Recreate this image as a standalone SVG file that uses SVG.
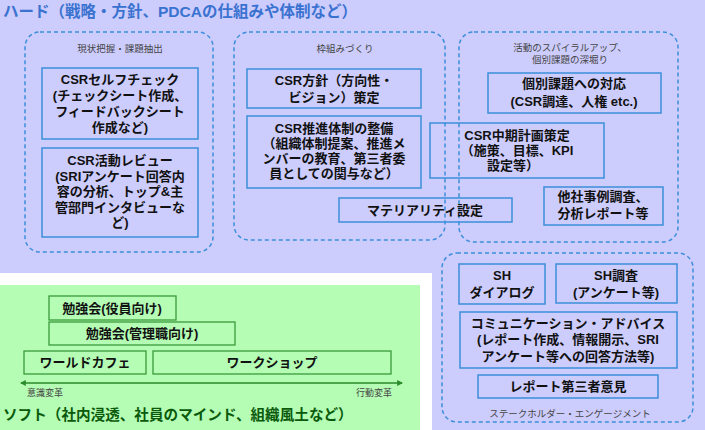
<svg xmlns="http://www.w3.org/2000/svg" width="705" height="430" viewBox="0 0 705 430">
<defs>
<style>
.bx{fill:none;stroke:#3d8fdb;stroke-width:1.5}
.gb{fill:none;stroke:#3a9a3a;stroke-width:1.3}
.dash{fill:none;stroke:#3d8fdb;stroke-width:1.5;stroke-dasharray:4 3}
.t{font-family:"Liberation Sans","Noto Sans CJK JP",sans-serif;font-weight:bold;font-size:13px;fill:#111;text-anchor:middle;dominant-baseline:central}
.s{font-family:"Liberation Sans","Noto Sans CJK JP",sans-serif;font-size:9.5px;fill:#444;text-anchor:middle;dominant-baseline:central}
.h{font-family:"Liberation Sans","Noto Sans CJK JP",sans-serif;font-weight:bold;font-size:15px;dominant-baseline:central}
</style>
<marker id="ah" viewBox="0 0 10 10" refX="8" refY="5" markerWidth="6" markerHeight="6" orient="auto-start-reverse" markerUnits="userSpaceOnUse">
<path d="M0,0 L10,5 L0,10 z" fill="#2a8a2a"/>
</marker>
</defs>
<rect x="0" y="0" width="705" height="430" fill="#ccccfd"/>
<rect x="0" y="273" width="432" height="157" fill="#ffffff"/>
<rect x="0" y="285" width="420" height="145" fill="#b5fdb5"/>
<text class="h" x="3" y="11" fill="#3a72d0" style="font-size:15.5px">ハード（戦略・方針、PDCAの仕組みや体制など）</text>
<text class="h" x="3" y="415" fill="#0b5a0b" style="font-size:14.6px">ソフト（社内浸透、社員のマインド、組織風土など）</text>

<g id="group-genjo">
<rect class="dash" x="25" y="32" width="188" height="220" rx="15"/>
<text class="s" x="120" y="48">現状把握・課題抽出</text>
</g>
<g id="group-wakugumi">
<rect class="dash" x="234" y="32" width="211" height="208" rx="15"/>
<text class="s" x="345" y="48">枠組みづくり</text>
</g>
<g id="group-spiral">
<rect class="dash" x="459" y="32" width="219" height="210" rx="15"/>
<text class="s" x="570"><tspan x="570" y="47">活動のスパイラルアップ、</tspan><tspan x="570" y="59">個別課題の深堀り</tspan></text>
</g>
<g id="group-stakeholder">
<rect class="dash" x="442" y="253" width="251" height="169" rx="15"/>
<text class="s" x="570" y="413">ステークホルダー・エンゲージメント</text>
</g>

<g id="self-check">
<rect class="bx" x="42" y="68" width="156" height="71"/>
<text class="t"><tspan x="120" y="79">CSRセルフチェック</tspan><tspan x="120" y="95">(チェックシート作成、</tspan><tspan x="120" y="111">フィードバックシート</tspan><tspan x="120" y="127">作成など)</tspan></text>
</g>
<g id="review">
<rect class="bx" x="42" y="148" width="156" height="89"/>
<text class="t"><tspan x="120" y="160">CSR活動レビュー</tspan><tspan x="120" y="175.5">(SRIアンケート回答内</tspan><tspan x="120" y="191">容の分析、トップ&amp;主</tspan><tspan x="120" y="206.5">管部門インタビューな</tspan><tspan x="120" y="222">ど)</tspan></text>
</g>
<g id="policy">
<rect class="bx" x="247" y="69" width="174" height="39"/>
<text class="t"><tspan x="334" y="80">CSR方針（方向性・</tspan><tspan x="334" y="97">ビジョン）策定</tspan></text>
</g>
<g id="structure">
<rect class="bx" x="247" y="116" width="174" height="72"/>
<text class="t"><tspan x="334" y="128">CSR推進体制の整備</tspan><tspan x="334" y="143">（組織体制提案、推進メ</tspan><tspan x="334" y="158">ンバーの教育、第三者委</tspan><tspan x="334" y="173">員としての関与など）</tspan></text>
</g>
<g id="midterm">
<rect class="bx" x="430" y="123" width="174" height="55"/>
<text class="t"><tspan x="517" y="135">CSR中期計画策定</tspan><tspan x="517" y="150">（施策、目標、KPI</tspan><tspan x="513" y="165">設定等）</tspan></text>
</g>
<g id="materiality">
<rect class="bx" x="339" y="198" width="173" height="24"/>
<text class="t" x="425" y="210">マテリアリティ設定</text>
</g>
<g id="individual">
<rect class="bx" x="488" y="73" width="173" height="40"/>
<text class="t"><tspan x="574" y="83">個別課題への対応</tspan><tspan x="574" y="101">(CSR調達、人権 etc.)</tspan></text>
</g>
<g id="benchmark">
<rect class="bx" x="544" y="187" width="119" height="38"/>
<text class="t"><tspan x="603" y="196">他社事例調査、</tspan><tspan x="603" y="213">分析レポート等</tspan></text>
</g>
<g id="sh-dialog">
<rect class="bx" x="459" y="264" width="86" height="40"/>
<text class="t"><tspan x="502" y="275">SH</tspan><tspan x="502" y="292">ダイアログ</tspan></text>
</g>
<g id="sh-survey">
<rect class="bx" x="556" y="264" width="121" height="39"/>
<text class="t"><tspan x="616" y="275">SH調査</tspan><tspan x="616" y="292">(アンケート等)</tspan></text>
</g>
<g id="communication">
<rect class="bx" x="460" y="312" width="217" height="56"/>
<text class="t"><tspan x="568" y="323">コミュニケーション・アドバイス</tspan><tspan x="568" y="339">(レポート作成、情報開示、SRI</tspan><tspan x="568" y="356">アンケート等への回答方法等)</tspan></text>
</g>
<g id="third-party">
<rect class="bx" x="478" y="375" width="180" height="23"/>
<text class="t" x="568" y="386">レポート第三者意見</text>
</g>

<g id="study-exec">
<rect class="gb" x="49" y="296" width="127" height="24"/>
<text class="t" x="112" y="308">勉強会(役員向け)</text>
</g>
<g id="study-mgr">
<rect class="gb" x="49" y="322" width="186" height="23"/>
<text class="t" x="142" y="333">勉強会(管理職向け)</text>
</g>
<g id="world-cafe">
<rect class="gb" x="24" y="351" width="122" height="23"/>
<text class="t" x="85" y="362">ワールドカフェ</text>
</g>
<g id="workshop">
<rect class="gb" x="153" y="351" width="238" height="23"/>
<text class="t" x="272" y="362">ワークショップ</text>
</g>

<g id="connectors">
<line x1="21" y1="383" x2="402" y2="383" stroke="#2a8a2a" stroke-width="1.5" marker-start="url(#ah)" marker-end="url(#ah)"/>
<text class="s" x="27" y="393" style="text-anchor:start;font-size:9px">意識変革</text>
<text class="s" x="392" y="393" style="text-anchor:end;font-size:9px">行動変革</text>
</g>
</svg>
